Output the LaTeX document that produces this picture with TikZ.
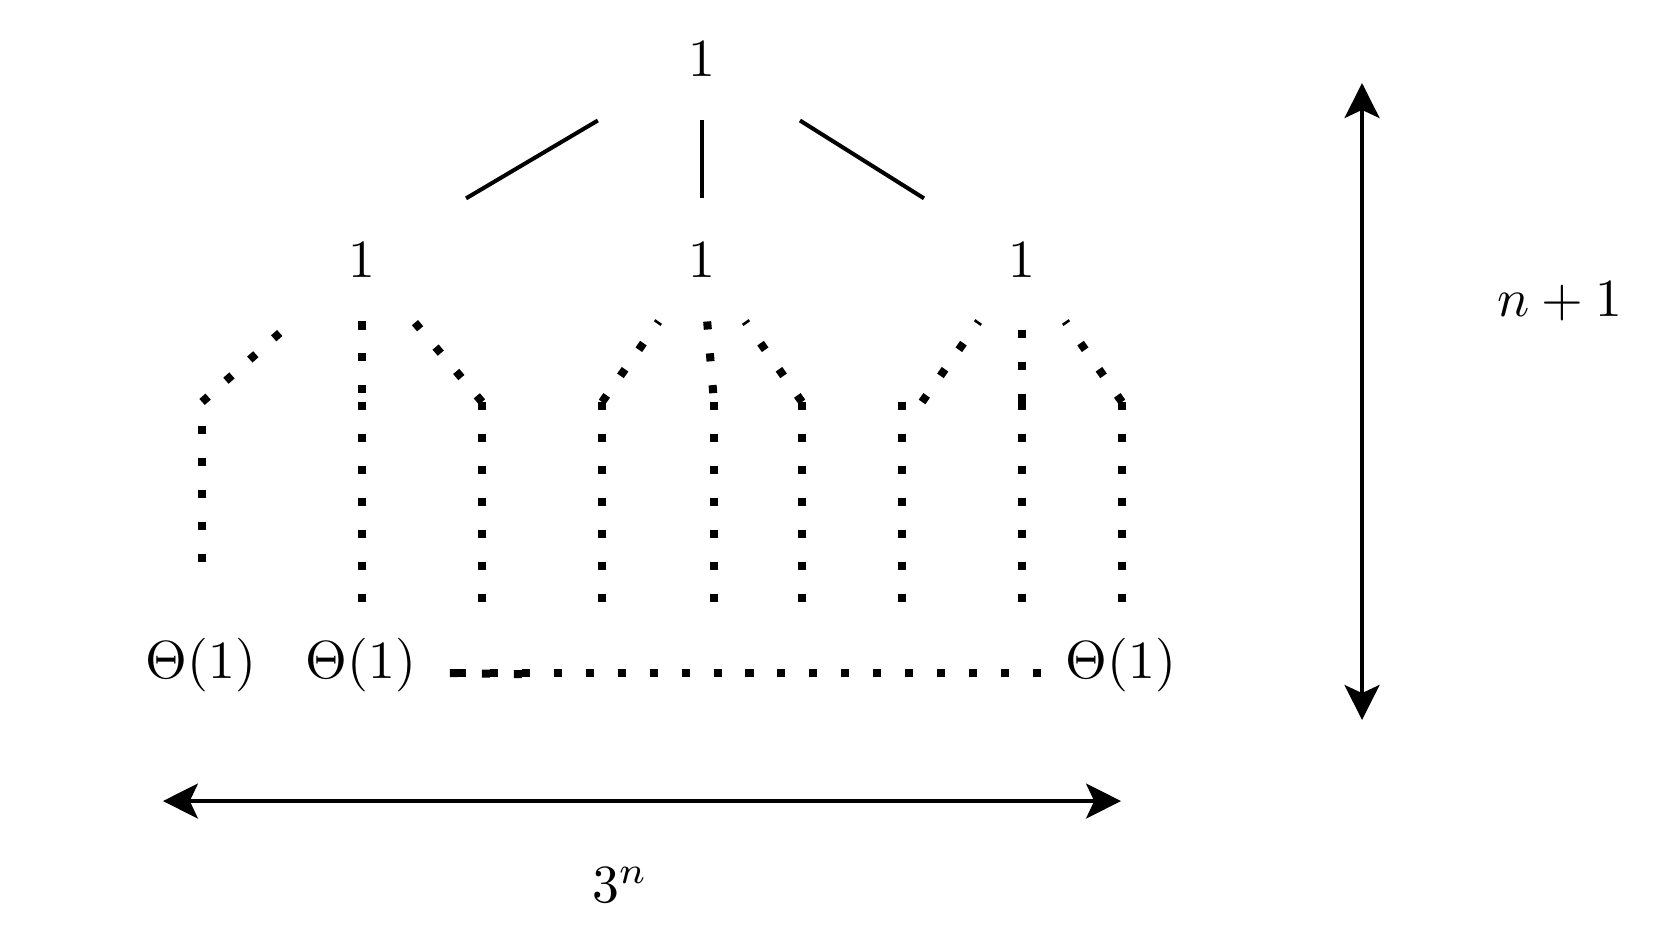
\documentclass[tikz,border=0pt]{standalone}
\usepackage{amsmath,amssymb}
\usetikzlibrary{arrows.meta}

\begin{document}
\begin{tikzpicture}[>={Stealth[length=6.5pt,width=6.5pt,inset=1.5pt]}]
\tikzset{
  costnode/.style={minimum width=1.5cm,minimum height=0.792cm,inner sep=0pt},
  solidedge/.style={line width=0.75pt},
  dotedge/.style={line width=1.5pt,dash pattern=on 1.5pt off 4.45pt},
  sizearrow/.style={<->,line width=0.75pt}
}
\useasboundingbox (0,0) rectangle (11,-6.233);
% root and first level
\node[costnode] (root) at (4.596,-0.386) {$1$};
\node[costnode] (l) at (2.370,-1.702) {$1$};
\node[costnode] (m) at (4.596,-1.702) {$1$};
\node[costnode] (r) at (6.692,-1.702) {$1$};
\draw[solidedge] (root) -- (l);
\draw[solidedge] (root) -- (m);
\draw[solidedge] (root) -- (r);
% second level (not labelled)
\coordinate (la) at (1.323,-2.632);
\coordinate (lb) at (2.370,-2.632);
\coordinate (lc) at (3.156,-2.632);
\coordinate (ma) at (3.942,-2.632);
\coordinate (mb) at (4.675,-2.632);
\coordinate (mc) at (5.251,-2.632);
\coordinate (ra) at (6.037,-2.632);
\coordinate (rb) at (6.692,-2.632);
\coordinate (rc) at (7.346,-2.632);
\draw[dotedge] (la) -- (l);
\draw[dotedge] (l) -- (lb);
\draw[dotedge] (lc) -- (l);
\draw[dotedge] (ma) -- (m);
\draw[dotedge] (m) -- (mb);
\draw[dotedge] (mc) -- (m);
\draw[dotedge] (ra) -- (r);
\draw[dotedge] (rb) -- (r);
\draw[dotedge] (rc) -- (r);
% columns down to the leaves
\coordinate (colatop) at (1.323,-2.789);
\coordinate (colabot) at (1.323,-3.680);
\draw[dotedge] (colatop) -- (colabot);
\foreach \x [count=\i] in {2.370,3.156,3.942,4.675,5.251,5.906,6.692,7.346} {
  \coordinate (coltop\i) at (\x,-2.632);
  \coordinate (colbot\i) at (\x,-3.942);
  \draw[dotedge] (coltop\i) -- (colbot\i);
}
% leaves
\node (leafa) at (1.316,-4.354) {$\Theta(1)$};
\node (leafb) at (2.364,-4.354) {$\Theta(1)$};
\node (leafz) at (7.340,-4.354) {$\Theta(1)$};
\coordinate (rowa) at (2.946,-4.407);
\coordinate (rowb) at (3.536,-4.416);
\coordinate (rowc) at (2.999,-4.407);
\coordinate (rowd) at (6.823,-4.407);
\draw[dotedge] (rowa) -- (rowb);
\draw[dotedge] (rowc) -- (rowd);
% width and height
\coordinate (wl) at (1.067,-5.245);
\coordinate (wr) at (7.340,-5.245);
\draw[sizearrow] (wl) -- (wr);
\node (width) at (4.060,-5.795) {$3^n$};
\coordinate (ht) at (8.918,-0.544);
\coordinate (hb) at (8.918,-4.714);
\draw[sizearrow] (ht) -- (hb);
\node (height) at (10.214,-1.971) {$n+1$};
\end{tikzpicture}
\end{document}
